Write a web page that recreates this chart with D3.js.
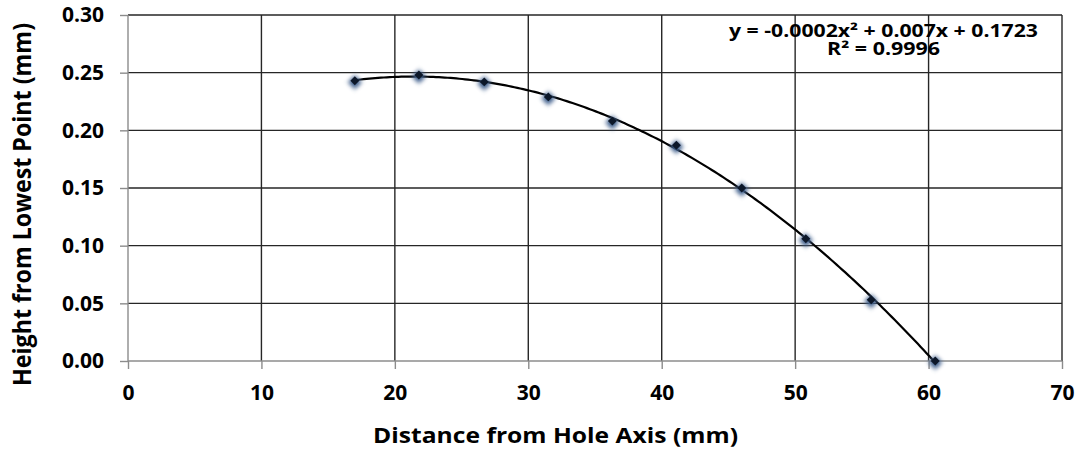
<!DOCTYPE html>
<html>
<head>
<meta charset="utf-8">
<script src="https://cdn.jsdelivr.net/npm/d3@7"></script>
<style>
  body { margin: 0; background: #fff; }
  text { font-family: "Open Sans", Lato, sans-serif; font-weight: bold; fill: #000; }
</style>
</head>
<body>
<svg id="chart" width="1082" height="457"></svg>
<script>
// Measured profile: distance from the hole axis vs. height above the lowest point
const distances = [17.0, 21.8, 26.7, 31.5, 36.3, 41.1, 46.0, 50.8, 55.7, 60.5];
const heights   = [0.243, 0.248, 0.242, 0.229, 0.208, 0.187, 0.150, 0.106, 0.053, 0.000];

const xTicks = [0, 10, 20, 30, 40, 50, 60, 70];
const yTicks = [0, 0.05, 0.10, 0.15, 0.20, 0.25, 0.30];

const equationLines = ["y = -0.0002x² + 0.007x + 0.1723", "R² = 0.9996"];
const xTitle = "Distance from Hole Axis (mm)";
const yTitle = "Height from Lowest Point (mm)";

const W = 1082, H = 457;
const plot = { left: 128, right: 1062, top: 15, bottom: 361 };

const svg = d3.select("#chart");
svg.append("rect").attr("width", W).attr("height", H).attr("fill", "#fff");

const x = d3.scaleLinear().domain([0, 70]).range([plot.left, plot.right]);
const y = d3.scaleLinear().domain([0, 0.30]).range([plot.bottom, plot.top]);

// Second-order least-squares trendline through the points
function quadFit(xs, ys) {
  const n = xs.length;
  const s = [0, 0, 0, 0, 0], t = [0, 0, 0];
  for (let i = 0; i < n; i++) {
    let p = 1;
    for (let k = 0; k < 5; k++) { s[k] += p; if (k < 3) t[k] += p * ys[i]; p *= xs[i]; }
  }
  const A = [[s[0], s[1], s[2], t[0]], [s[1], s[2], s[3], t[1]], [s[2], s[3], s[4], t[2]]];
  for (let c = 0; c < 3; c++) {
    let piv = c;
    for (let r = c + 1; r < 3; r++) if (Math.abs(A[r][c]) > Math.abs(A[piv][c])) piv = r;
    [A[c], A[piv]] = [A[piv], A[c]];
    for (let r = 0; r < 3; r++) {
      if (r === c) continue;
      const f = A[r][c] / A[c][c];
      for (let k = c; k < 4; k++) A[r][k] -= f * A[c][k];
    }
  }
  return [A[0][3] / A[0][0], A[1][3] / A[1][1], A[2][3] / A[2][2]];
}
const coef = quadFit(distances, heights);
const fitAt = v => coef[0] + coef[1] * v + coef[2] * v * v;

// Gridlines (dark); the frame's top and right edges are the last gridlines
const grid = svg.append("g");
grid.selectAll("line.v").data(xTicks.filter(d => d > 0)).join("line")
  .attr("x1", d => x(d)).attr("x2", d => x(d))
  .attr("y1", plot.top).attr("y2", plot.bottom)
  .attr("stroke", "#262626").attr("stroke-width", 1.4);
grid.selectAll("line.h").data(yTicks.filter(d => d > 0)).join("line")
  .attr("x1", plot.left).attr("x2", plot.right)
  .attr("y1", d => y(d)).attr("y2", d => y(d))
  .attr("stroke", "#262626").attr("stroke-width", 1.4);

// Axes (grey lines and outward ticks)
const yAxis = svg.append("g")
  .attr("transform", `translate(${plot.left},0)`)
  .call(d3.axisLeft(y).tickValues(yTicks).tickFormat(d3.format(".2f")).tickSize(8).tickPadding(16));
const xAxis = svg.append("g")
  .attr("transform", `translate(0,${plot.bottom})`)
  .call(d3.axisBottom(x).tickValues(xTicks).tickFormat(d3.format("d")).tickSize(8).tickPadding(16));
[xAxis, yAxis].forEach(a => {
  a.select(".domain").attr("stroke", "#8c8c8c").attr("stroke-width", 1.4);
  a.selectAll(".tick line").attr("stroke", "#8c8c8c").attr("stroke-width", 1.4);
  a.selectAll(".tick text").attr("fill", "#000").style("font-size", "21px")
    .style("font-family", "'Open Sans', Lato, sans-serif").style("font-weight", "bold");
});
xAxis.select(".domain").attr("d", `M${plot.left},0H${plot.right}`);
yAxis.select(".domain").attr("d", `M0,${plot.bottom}V${plot.top}`);

// Trendline across the measured range
const xs = d3.range(0, 201).map(i => distances[0] + (distances[distances.length - 1] - distances[0]) * i / 200);
svg.append("path")
  .datum(xs)
  .attr("d", d3.line().x(d => x(d)).y(d => y(fitAt(d))))
  .attr("fill", "none").attr("stroke", "#000").attr("stroke-width", 2.2);

// Diamond markers with a soft blue glow
const defs = svg.append("defs");
defs.append("filter").attr("id", "glow").attr("x", "-100%").attr("y", "-100%")
  .attr("width", "300%").attr("height", "300%")
  .append("feGaussianBlur").attr("stdDeviation", 1.9);

const pts = distances.map((d, i) => ({ d, h: heights[i] }));
const diamond = d3.symbol().type(d3.symbolSquare);
const markers = svg.append("g");
markers.selectAll("path.halo").data(pts).join("path")
  .attr("class", "halo")
  .attr("d", diamond.size(100)())
  .attr("transform", p => `translate(${x(p.d)},${y(p.h) + 1.5}) rotate(45)`)
  .attr("fill", "#3f5f8c").attr("filter", "url(#glow)");
markers.selectAll("path.core").data(pts).join("path")
  .attr("class", "core")
  .attr("d", diamond.size(40)())
  .attr("transform", p => `translate(${x(p.d)},${y(p.h)}) rotate(45)`)
  .attr("fill", "#0c1729");

// Trendline equation
const eqWidths = [309, 113];
svg.append("g").selectAll("text").data(equationLines).join("text")
  .attr("x", 883.5).attr("y", (d, i) => 36.5 + i * 18.5)
  .attr("text-anchor", "middle").style("font-size", "17px")
  .attr("textLength", (d, i) => eqWidths[i]).attr("lengthAdjust", "spacingAndGlyphs")
  .text(d => d);

// Axis titles
svg.append("text")
  .attr("x", 555.5).attr("y", 443).attr("text-anchor", "middle")
  .attr("textLength", 365).attr("lengthAdjust", "spacingAndGlyphs")
  .style("font-size", "21px").text(xTitle);
svg.append("text")
  .attr("transform", "translate(31,204.5) scale(1.15,1) rotate(-90)")
  .attr("text-anchor", "middle")
  .attr("textLength", 363).attr("lengthAdjust", "spacingAndGlyphs")
  .style("font-size", "22px").text(yTitle);
</script>
</body>
</html>
